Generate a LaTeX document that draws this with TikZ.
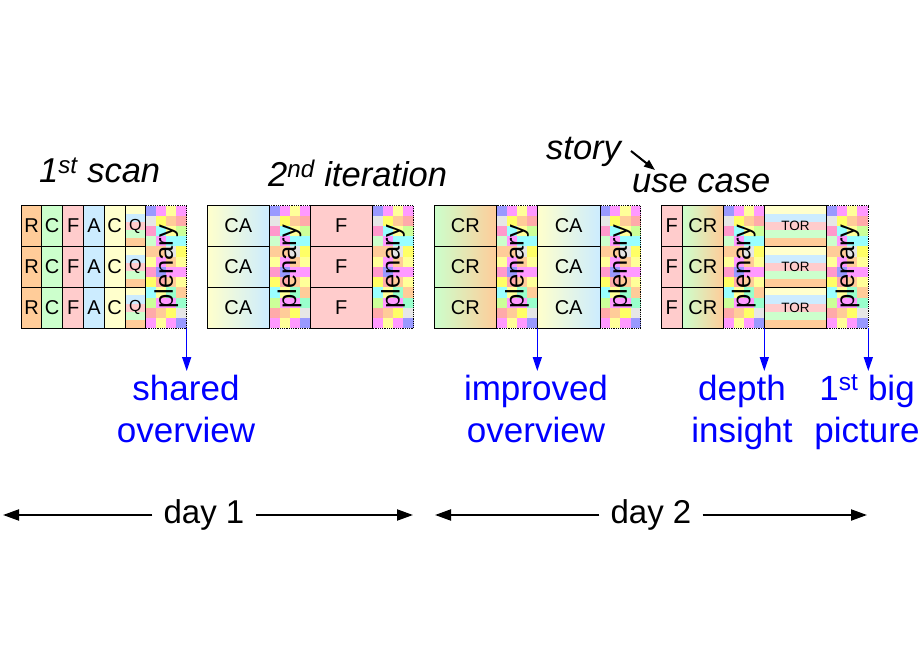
\documentclass[tikz,border=0pt]{standalone}
\usepackage{fontspec}
\usepackage{graphicx}
\setmainfont{Liberation Sans}
\usetikzlibrary{arrows.meta}

\definecolor{cR}{HTML}{FFCC99}
\definecolor{cG}{HTML}{CCFFCC}
\definecolor{cP}{HTML}{FFCCCC}
\definecolor{cB}{HTML}{CCECFF}
\definecolor{cY}{HTML}{FFFFCC}
\definecolor{pa}{HTML}{9999FF}
\definecolor{pb}{HTML}{FF99FF}
\definecolor{pc}{HTML}{FFFF99}
\definecolor{pd}{HTML}{FFCC99}
\definecolor{pe}{HTML}{FFAAAA}
\definecolor{pf}{HTML}{E6E6E6}
\definecolor{pg}{HTML}{99FFFF}
\definecolor{ph}{HTML}{CCFF99}
\definecolor{pi}{HTML}{FF99CC}
\definecolor{pj}{HTML}{FFFF66}
\definecolor{pk}{HTML}{99FFCC}
\definecolor{pl}{HTML}{CCFFCC}

% checkerboard of a plenary column, top-left corner (#1,#2)
\newcommand\plenfill[2]{%
  \foreach \pcl [count=\pidx from 0] in {pa,pb,pc,pb, pf,pj,pd,pe, pi,pg,pc,ph, pl,pb,pg,pg,
      pd,pd,pf,pj, pc,pb,pd,pc, pi,pa,pb,pb, pj,pe,pd,pc, pg,pc,pk,pd, ph,pb,pb,pk,
      pe,pd,pj,pf, pb,pc,pb,pa}{%
    \pgfmathtruncatemacro\prow{\pidx/4}%
    \pgfmathtruncatemacro\pcol{mod(\pidx,4)}%
    \fill[\pcl] ({#1+\pcol*10.2},{#2+\prow*10.2}) rectangle ++(10.2,10.2);
  }}
% five horizontal stripes in a cell, top-left (#1,#2), width #3
\newcommand\stripefill[3]{%
  \foreach \scl [count=\sidx from 0] in {cY,cB,cP,cG,cR}{%
    \fill[\scl] ({#1},{#2+\sidx*8.16}) rectangle ++(#3,8.16);
  }}

\tikzset{
  cell/.style={draw=black, line width=0.8pt, minimum height=40.8pt, inner sep=0pt,
    outer sep=0pt, anchor=north west, font=\fontsize{20}{22}\selectfont},
  plen/.style={draw=black, densely dotted, line width=0.8pt, minimum height=122.4pt,
    inner sep=0pt, outer sep=0pt, anchor=north west, font=\fontsize{25.5}{28}\selectfont},
  title/.style={anchor=base west, inner sep=0pt, font=\fontsize{34.5}{40}\selectfont\itshape},
  lbl/.style={text=blue, align=center, anchor=base, inner sep=0pt,
    font=\fontsize{35}{42}\selectfont},
  bluearrow/.style={draw=blue, line width=1.5pt, -{Triangle[width=9pt,length=14pt]}},
  dayarrow/.style={draw=black, line width=2pt, -{Triangle[width=11pt,length=16pt]}},
  daylbl/.style={inner xsep=11pt, inner ysep=0pt, font=\fontsize{33}{40}\selectfont},
}

\begin{document}
\begin{tikzpicture}[x=1pt,y=-1pt]
\useasboundingbox (0,0) rectangle (920,660);
\fill[white] (0,0) rectangle (920,660);

% ---------- block 1 : 1st scan ----------
\plenfill{145.7}{205.7}
\node[plen, minimum width=41pt] (p1) at (145.7,205.7) {\rotatebox{90}{plenary}};
\foreach \rr in {0,1,2}{
  \pgfmathsetmacro\yy{205.7+\rr*40.8}
  \stripefill{125}{\yy}{20.7}
  \node[cell, fill=cR, minimum width=20pt] (aR\rr) at (21.7,\yy) {R};
  \node[cell, fill=cG, minimum width=21pt] (aC\rr) at (41.7,\yy) {C};
  \node[cell, fill=cP, minimum width=21pt] (aF\rr) at (62.7,\yy) {F};
  \node[cell, fill=cB, minimum width=20.6pt] (aA\rr) at (83.7,\yy) {A};
  \node[cell, fill=cY, minimum width=20.7pt] (aD\rr) at (104.3,\yy) {C};
  \node[cell, minimum width=20.7pt, font=\fontsize{16}{18}\selectfont] (aQ\rr) at (125,\yy) {Q};
}

% ---------- block 2 : 2nd iteration ----------
\plenfill{269.3}{205.7}
\node[plen, minimum width=40.7pt] (p2) at (269.3,205.7) {\rotatebox{90}{plenary}};
\plenfill{372.7}{205.7}
\node[plen, minimum width=40.7pt] (p3) at (372.7,205.7) {\rotatebox{90}{plenary}};
\foreach \rr in {0,1,2}{
  \pgfmathsetmacro\yy{205.7+\rr*40.8}
  \node[cell, left color=cY, right color=cB, minimum width=62pt] (bCA\rr) at (207.3,\yy) {CA};
  \node[cell, fill=cP, minimum width=62.7pt] (bF\rr) at (310,\yy) {F};
}

% ---------- block 3 ----------
\plenfill{496.7}{205.7}
\node[plen, minimum width=40.6pt] (p4) at (496.7,205.7) {\rotatebox{90}{plenary}};
\plenfill{600}{205.7}
\node[plen, minimum width=40.7pt] (p5) at (600,205.7) {\rotatebox{90}{plenary}};
\foreach \rr in {0,1,2}{
  \pgfmathsetmacro\yy{205.7+\rr*40.8}
  \node[cell, left color=cG, right color=cR, minimum width=62.7pt] (cCR\rr) at (434,\yy) {CR};
  \node[cell, left color=cY, right color=cB, minimum width=62.7pt] (cCA\rr) at (537.3,\yy) {CA};
}

% ---------- block 4 ----------
\plenfill{723.3}{205.7}
\node[plen, minimum width=41pt] (p6) at (723.3,205.7) {\rotatebox{90}{plenary}};
\plenfill{826.7}{205.7}
\node[plen, minimum width=41.6pt] (p7) at (826.7,205.7) {\rotatebox{90}{plenary}};
\foreach \rr in {0,1,2}{
  \pgfmathsetmacro\yy{205.7+\rr*40.8}
  \stripefill{764.3}{\yy}{62.4}
  \node[cell, fill=cP, minimum width=21.3pt] (dF\rr) at (661,\yy) {F};
  \node[cell, left color=cG, right color=cR, minimum width=41pt] (dCR\rr) at (682.3,\yy) {CR};
  \node[cell, minimum width=62.4pt, font=\fontsize{13.5}{15}\selectfont] (dT\rr) at (764.3,\yy) {TOR};
}

% ---------- titles ----------
\node[title] (t1) at (39,183) {1\textsuperscript{st} scan};
\node[title] (t2) at (268,187) {2\textsuperscript{nd} iteration};
\node[title] (t3) at (546,160) {story};
\node[title] (t4) at (632,193) {use case};
\coordinate (sa) at (631,151);
\coordinate (sb) at (655,170);
\draw[draw=black, line width=2pt, -{Triangle[width=8pt,length=11pt]}] (sa) -- (sb);

% ---------- outcome arrows ----------
\coordinate (o1) at (186.7,371);
\coordinate (o2) at (537.3,371);
\coordinate (o3) at (764.3,371);
\coordinate (o4) at (868.3,371);
\draw[bluearrow] (p1.south east) -- (o1);
\draw[bluearrow] (p4.south east) -- (o2);
\draw[bluearrow] (p6.south east) -- (o3);
\draw[bluearrow] (p7.south east) -- (o4);

\node[lbl] (l1) at (186,442) {shared\\overview};
\node[lbl] (l2) at (536,442) {improved\\overview};
\node[lbl] (l3) at (742,442) {depth\\insight};
\node[lbl] (l4) at (867,442) {1\textsuperscript{st} big\\picture};

% ---------- days ----------
\node[daylbl] (day1) at (204,515) {day 1};
\coordinate (d1l) at (3,515);
\coordinate (d1r) at (413,515);
\draw[dayarrow] (day1.west) -- (d1l);
\draw[dayarrow] (day1.east) -- (d1r);

\node[daylbl] (day2) at (651,515) {day 2};
\coordinate (d2l) at (435,515);
\coordinate (d2r) at (867,515);
\draw[dayarrow] (day2.west) -- (d2l);
\draw[dayarrow] (day2.east) -- (d2r);
\end{tikzpicture}
\end{document}
